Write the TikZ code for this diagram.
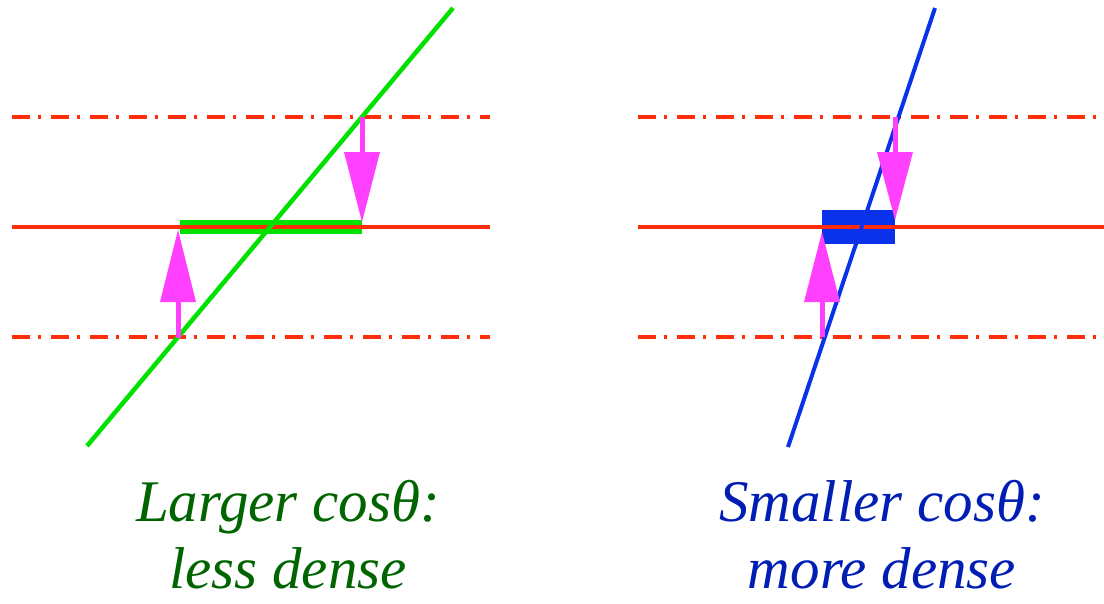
\documentclass[tikz,border=0pt]{standalone}
\usepackage{fontspec}
\setmainfont{Liberation Serif}
\definecolor{lred}{RGB}{255,45,10}
\definecolor{lgreen}{RGB}{0,225,0}
\definecolor{lblue}{RGB}{10,50,235}
\definecolor{lmag}{RGB}{255,64,255}
\definecolor{tgreen}{RGB}{0,100,0}
\definecolor{tblue}{RGB}{0,30,180}
\begin{document}
\begin{tikzpicture}[x=1pt,y=-1pt,
  refline/.style={lred,line width=4pt,dash pattern=on 18pt off 8pt on 3pt off 10pt},
  midline/.style={lred,line width=4pt},
  shaft/.style={lmag,line width=5pt},
  headtri/.style={fill=lmag,draw=none},
  caption/.style={font=\fontsize{59}{67}\selectfont\itshape,anchor=base,inner sep=0pt}]
\useasboundingbox (0,0) rectangle (1104,603);
% ---------- left panel ----------
\coordinate (LtopA) at (12,117); \coordinate (LtopB) at (490,117);
\coordinate (LmidA) at (12,227); \coordinate (LmidB) at (490,227);
\coordinate (LbotA) at (12,337); \coordinate (LbotB) at (490,337);
\coordinate (Lg1) at (87,446); \coordinate (Lg2) at (453,8);
\coordinate (Ls1) at (180,227); \coordinate (Ls2) at (362,227);
\draw[refline] (LtopA) -- (LtopB);
\draw[refline] (LbotA) -- (LbotB);
\draw[lgreen,line width=14pt] (Ls1) -- (Ls2);
\draw[midline] (LmidA) -- (LmidB);
\draw[lgreen,line width=4.5pt] (Lg1) -- (Lg2);
% arrows left
\coordinate (LdS) at (362,117); \coordinate (LdT) at (362,222);
\draw[shaft] (LdS) -- (362,155);
\fill[headtri] (344,152) -- (380,152) -- (LdT) -- cycle;
\coordinate (LuS) at (178,338); \coordinate (LuT) at (178,230);
\draw[shaft] (LuS) -- (178,300);
\fill[headtri] (160,302) -- (196,302) -- (LuT) -- cycle;
% ---------- right panel ----------
\coordinate (RtopA) at (638,117); \coordinate (RtopB) at (1104,117);
\coordinate (RmidA) at (638,227); \coordinate (RmidB) at (1104,227);
\coordinate (RbotA) at (638,337); \coordinate (RbotB) at (1104,337);
\coordinate (Rb1) at (788,447); \coordinate (Rb2) at (935,8);
\draw[refline] (RtopA) -- (RtopB);
\draw[refline] (RbotA) -- (RbotB);
\fill[lblue] (822,210) rectangle (895,244);
\draw[midline] (RmidA) -- (RmidB);
\draw[lblue,line width=4pt] (Rb1) -- (Rb2);
% arrows right
\coordinate (RdS) at (895,117); \coordinate (RdT) at (895,220);
\draw[shaft] (RdS) -- (895,155);
\fill[headtri] (877,152) -- (913,152) -- (RdT) -- cycle;
\coordinate (RuS) at (822,337); \coordinate (RuT) at (822,232);
\draw[shaft] (RuS) -- (822,300);
\fill[headtri] (804,302) -- (840,302) -- (RuT) -- cycle;
% ---------- captions ----------
\node[caption,text=tgreen] (L1) at (288,521) {Larger cosθ:};
\node[caption,text=tgreen] (L2) at (288,588) {less dense};
\node[caption,text=tblue] (R1) at (882,521) {Smaller cosθ:};
\node[caption,text=tblue] (R2) at (882,588) {more dense};
\end{tikzpicture}
\end{document}
